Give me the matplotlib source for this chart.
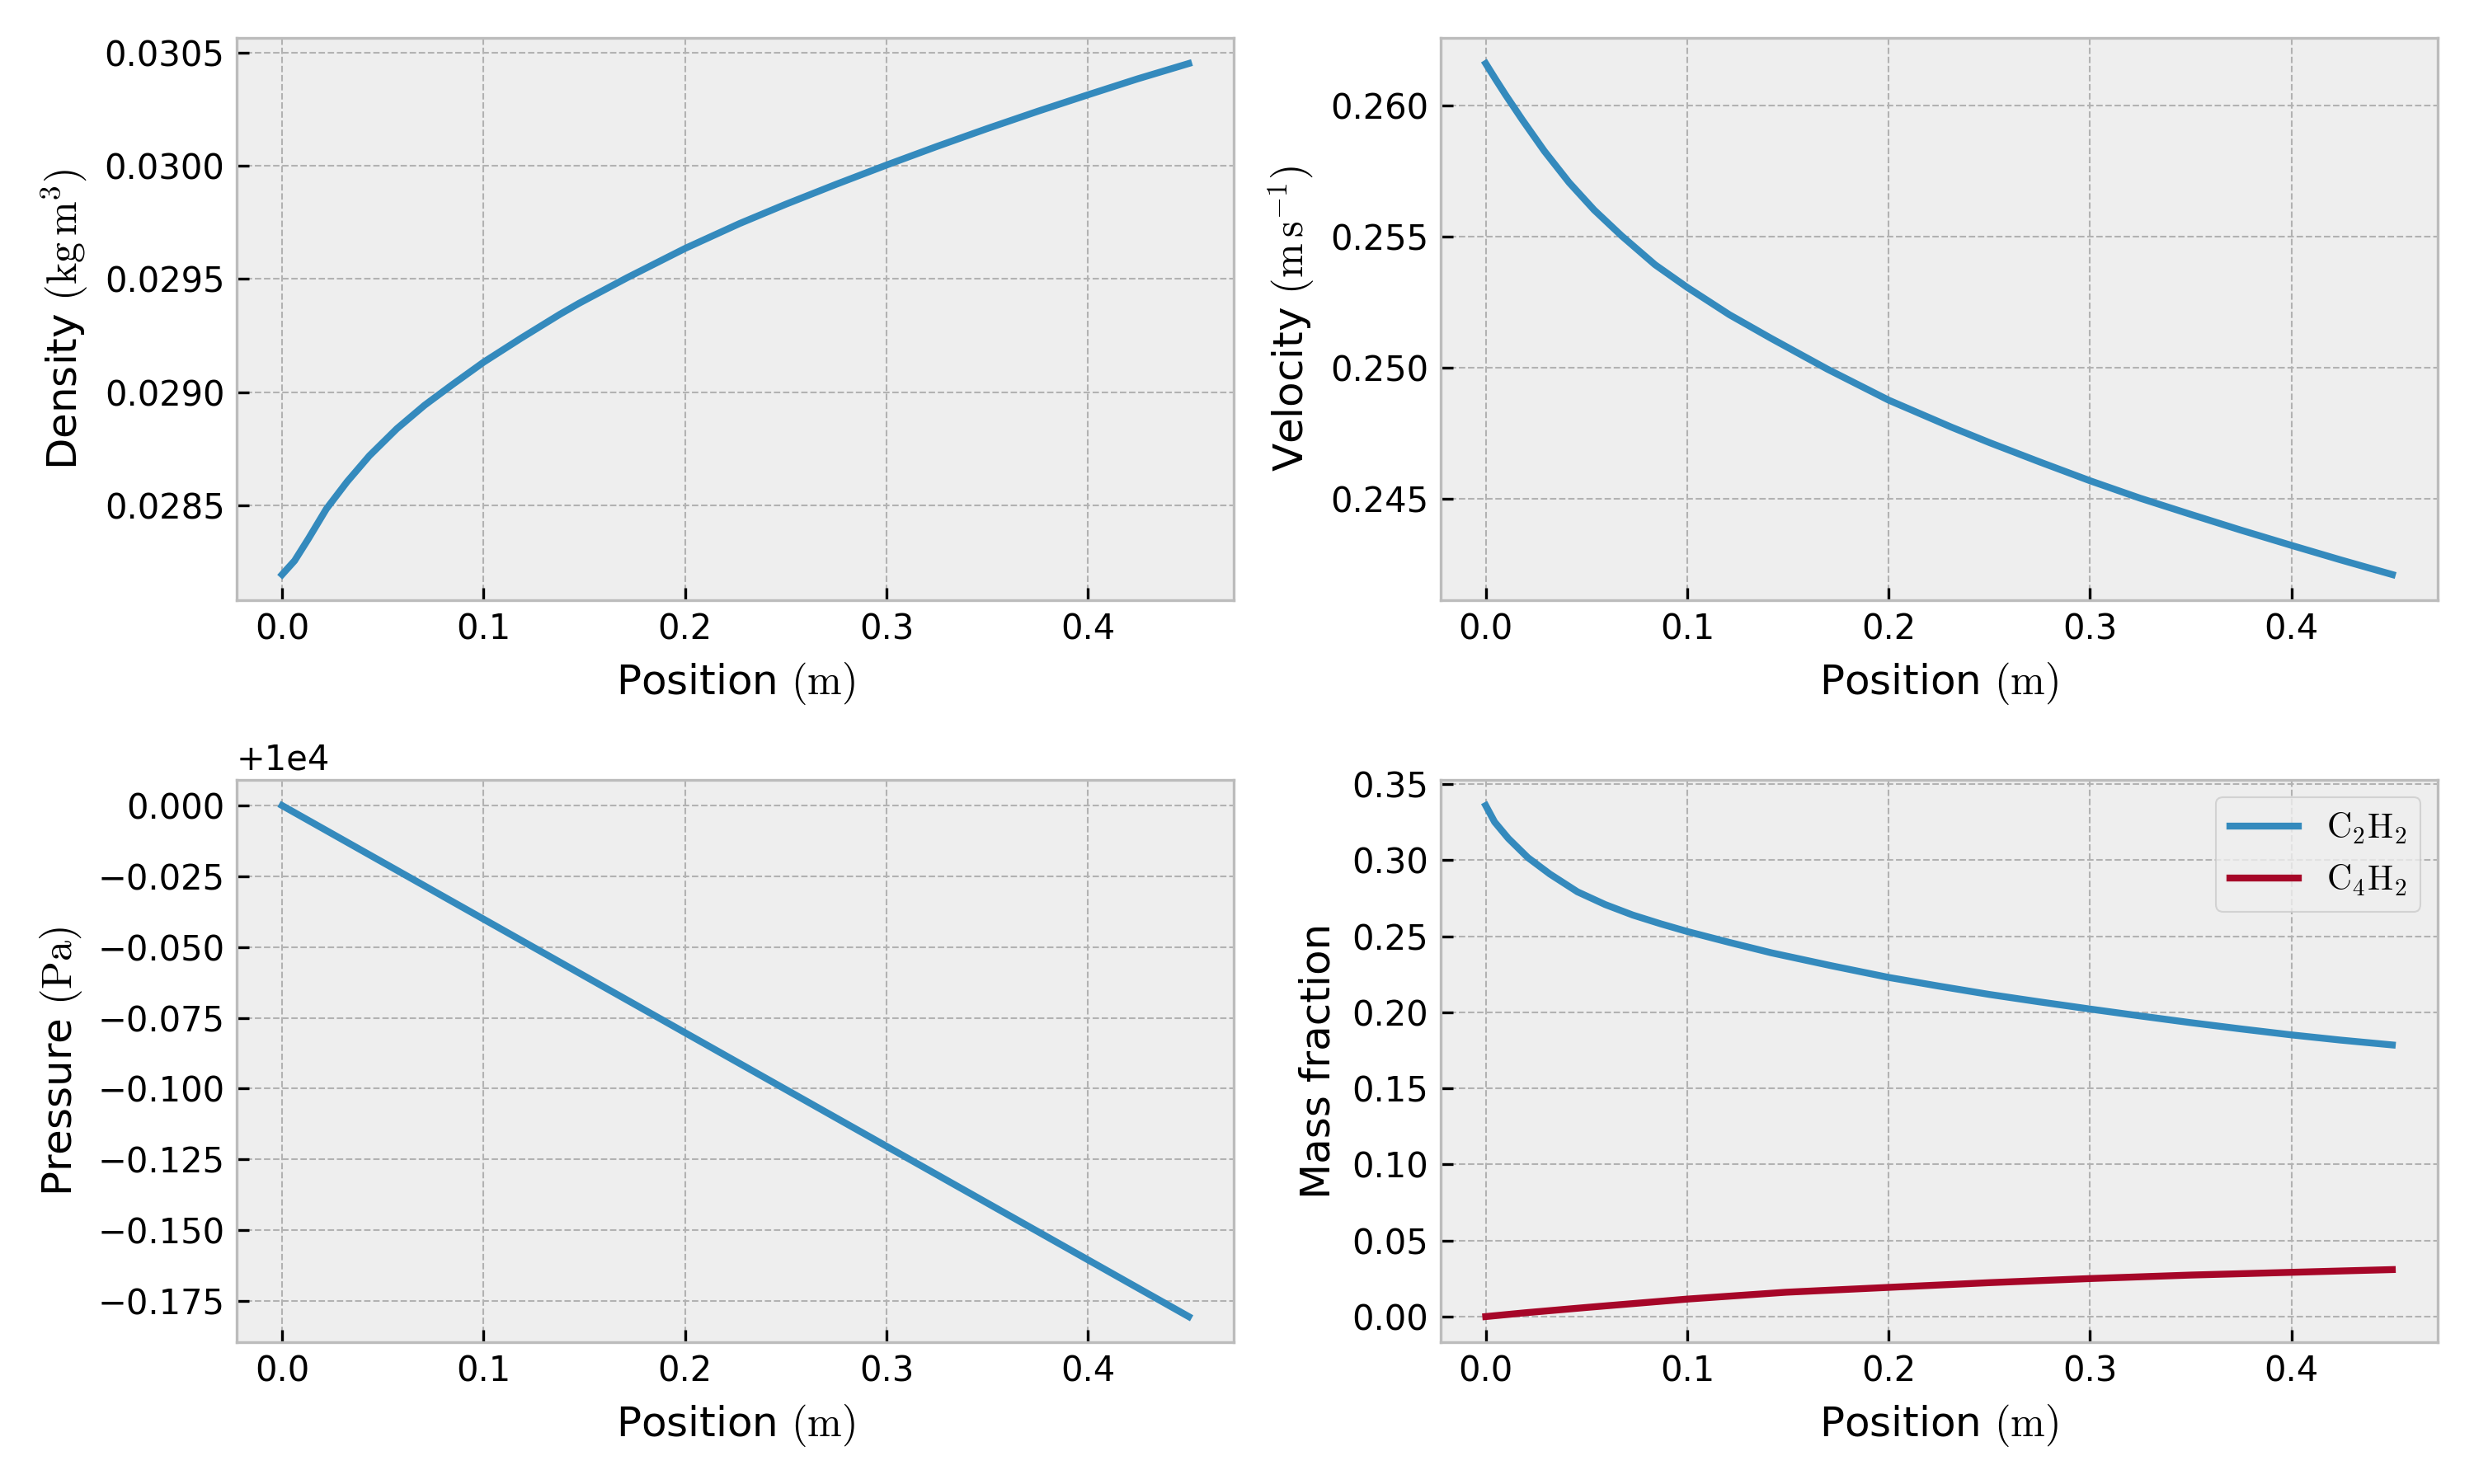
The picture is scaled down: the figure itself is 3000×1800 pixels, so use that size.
import numpy as np
import matplotlib as mpl

mpl.use('agg')

import matplotlib.pyplot as plt

plt.style.use('bmh')
plt.rcParams['mathtext.fontset'] = 'cm'

## values
x_density = [0.0, 0.0062, 0.013, 0.022, 0.0323, 0.0433, 0.057, 0.0707, 0.0845,
             0.1, 0.1188, 0.138, 0.1474, 0.1713, 0.2, 0.2271, 0.25, 0.275, 0.3,
             0.325, 0.35, 0.375, 0.4, 0.4245, 0.45]
density = [0.028196, 0.028257, 0.028353, 0.028486, 0.028606, 0.028720, 0.028840,
           0.028943, 0.029034, 0.029133, 0.029240, 0.029345, 0.029393, 0.029506,
           0.029635, 0.029745, 0.029830, 0.029918, 0.030003, 0.030085, 0.030164,
           0.030240, 0.030313, 0.030383, 0.030451]

x_velocity = [0.0, 0.0051, 0.0099, 0.0181, 0.0291, 0.0414, 0.0538, 0.0675, 0.084,
              0.1, 0.121, 0.1417, 0.1696, 0.2, 0.2312, 0.25, 0.2749, 0.3, 0.3247,
              0.3496, 0.3745, 0.4, 0.4243, 0.45]
velocity = [0.261583, 0.260958, 0.260385, 0.259448, 0.258250, 0.257052, 0.256010,
            0.255021, 0.253927, 0.253063, 0.252020, 0.251120, 0.249950, 0.248770,
            0.247740, 0.247155, 0.246420, 0.245700, 0.245040, 0.244430, 0.243830,
            0.243240, 0.242690, 0.242130]

x_pressure = [0.0, 0.1, 0.2, 0.3, 0.4, 0.45]
pressure = [10000.0, 9999.95987, 9999.91974, 9999.87961, 9999.83948, 9999.81942]

x_c2h2 = [0.0, 0.0044, 0.0112, 0.0209, 0.0318, 0.0455, 0.0593, 0.073, 0.0867,
          0.1, 0.121, 0.1417, 0.1715, 0.2, 0.2253, 0.25, 0.275, 0.3, 0.3247,
          0.3497, 0.3745, 0.4, 0.4243, 0.45]
y_c2h2 = [0.3360, 0.3252, 0.3144, 0.3018, 0.2910, 0.2793, 0.2709, 0.2640, 0.2583,
          0.2532, 0.2460, 0.2392, 0.2307, 0.2230, 0.2172, 0.2118, 0.2069, 0.2022,
          0.1977, 0.1933, 0.1892, 0.1852, 0.1818, 0.1786]

x_c4h2 = [0.0, 0.0196, 0.05, 0.1, 0.149, 0.2, 0.25, 0.3, 0.35, 0.4, 0.45]
y_c4h2 = [0.0, 0.0025, 0.0060, 0.0115, 0.0160, 0.0192, 0.0223, 0.0250, 0.0273,
          0.0291, 0.0309]

fig, ax = plt.subplots(2, 2, figsize=(10, 6))

ax[0, 0].plot(x_density, density)
ax[0, 0].set_xlabel(r'Position $(\mathrm{m})$')
ax[0, 0].set_ylabel(r'Density $(\mathrm{kg\,m^3})$')

ax[0, 1].plot(x_velocity, velocity)
ax[0, 1].set_xlabel(r'Position $(\mathrm{m})$')
ax[0, 1].set_ylabel(r'Velocity $(\mathrm{m\,s^{-1}})$')

ax[1, 0].plot(x_pressure, pressure)
ax[1, 0].set_xlabel(r'Position $(\mathrm{m})$')
ax[1, 0].set_ylabel(r'Pressure $(\mathrm{Pa})$')

ax[1, 1].plot(x_c2h2, y_c2h2, label=r'$\mathrm{C_2H_2}$')
ax[1, 1].plot(x_c4h2, y_c4h2, label=r'$\mathrm{C_4H_2}$')
ax[1, 1].set_xlabel(r'Position $(\mathrm{m})$')
ax[1, 1].set_ylabel('Mass fraction')
ax[1, 1].legend(loc='upper right')

fig.subplots_adjust(left=0.0957, right=0.9853, bottom=0.0956, top=0.9744,
                    wspace=0.207, hspace=0.32)
fig.savefig('out.png', dpi=300)
